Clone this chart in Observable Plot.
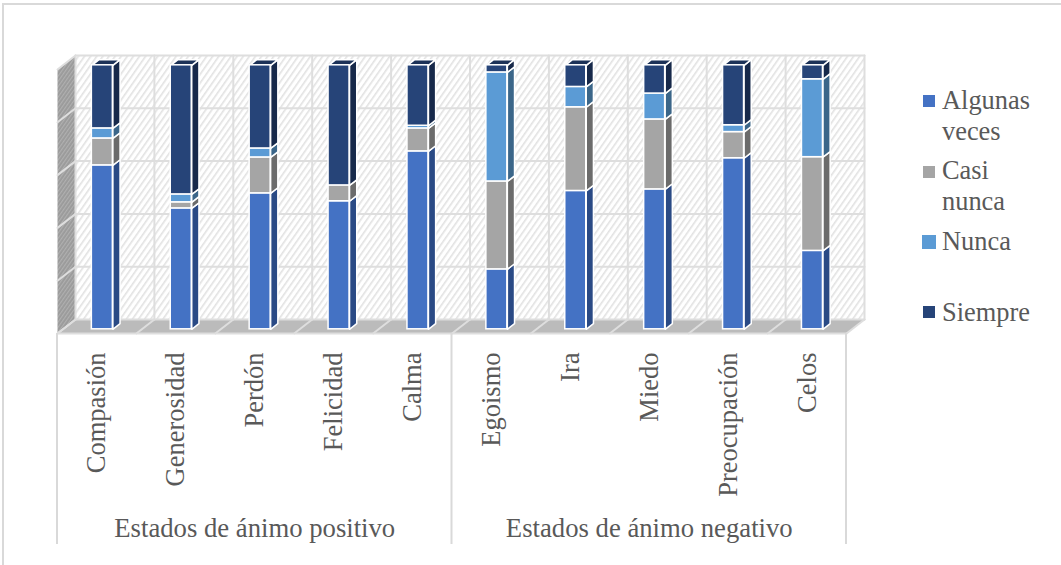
<!DOCTYPE html>
<html>
<head>
<meta charset="utf-8">
<script src="https://cdn.jsdelivr.net/npm/d3@7"></script>
<script src="https://cdn.jsdelivr.net/npm/@observablehq/plot@0.6"></script>
<style>
  html, body { margin: 0; padding: 0; background: #fff; }
  #chart { position: relative; width: 1061px; height: 565px; overflow: hidden; }
  #chart svg { display: block; position: absolute; left: 0; top: 0; }
  .lg { position: absolute; left: 942px; font: 26.4px/31px "Liberation Serif", serif; color: #595959; white-space: pre; }
  .sw { position: absolute; }
</style>
</head>
<body>
<div id="chart"></div>
<script>
const categories = ["Compasión","Generosidad","Perdón","Felicidad","Calma","Egoismo","Ira","Miedo","Preocupación","Celos"];
const groups = ["Estados de ánimo positivo","Estados de ánimo negativo"];
const groupSpans = [[0,5],[5,10]];
const seriesNames = ["Algunas veces","Casi nunca","Nunca","Siempre"];
const algunasVeces = [62.1,45.8,51.5,48.5,67.4,22.7,52.4,53.0,64.8,29.7];
const casiNunca    = [10.2, 2.3,13.6, 6.0, 8.7,33.3,31.7,26.5, 9.9,35.5];
const nunca        = [ 3.8, 3.0, 3.4, 0.0, 1.0,41.3, 7.7, 9.8, 2.6,29.5];
const siempre      = [23.9,48.9,31.5,45.5,22.9, 2.7, 8.2,10.7,22.7, 5.3];
const yTicks = [0,20,40,60,80,100];
const frontColors = ["#4472c4","#a5a5a5","#5b9bd5","#264478"];
const sideColors  = ["#2a4a85","#6b6b6b","#3b6689","#17294a"];
const topColors   = ["#2f5597","#7c7c7c","#44749f","#1c3258"];
const seriesValues = [algunasVeces,casiNunca,nunca,siempre];

// Oblique projection: t = 0 is the front edge of the floor, t = 1 is the back wall.
const shiftX = 18 / 78.9, shiftY = 14 / 2.64;
const P = (x, y, t) => ({x: x + t * shiftX, y: y + t * shiftY});
const barFront = 0.3, barBack = 0.7, halfBar = 0.133;

// Stack the series into segments
const segments = [];
categories.forEach((c, i) => {
  let base = 0;
  seriesValues.forEach((vals, s) => {
    const v = vals[i];
    if (v > 0) segments.push({c, i, s, name: seriesNames[s], lo: base, hi: base + v});
    base += v;
  });
});
const lo = d => d.i + 0.5 - halfBar, hi = d => d.i + 0.5 + halfBar;

const polys = (rows, cornersOf, colorOf) => rows.flatMap((d, k) =>
  cornersOf(d).map(p => ({...p, id: k, color: colorOf(d)})));
const sidePts = polys(segments, d => [P(hi(d),d.lo,barFront),P(hi(d),d.lo,barBack),P(hi(d),d.hi,barBack),P(hi(d),d.hi,barFront)], d => sideColors[d.s]);
// only the top-most segment of each bar shows its top face
const topSegs = segments.filter(d => d.s === 3);
const topPts = polys(topSegs, d => [P(lo(d),d.hi,barFront),P(hi(d),d.hi,barFront),P(hi(d),d.hi,barBack),P(lo(d),d.hi,barBack)], d => topColors[d.s]);

const wall = [P(0,0,1),P(10,0,1),P(10,100,1),P(0,100,1)];
const leftWall = [P(0,0,0),P(0,0,1),P(0,100,1),P(0,100,0)];
const floor = [P(0,0,0),P(10,0,0),P(10,0,1),P(0,0,1)];
const cuts = d3.range(0, 11);
const grid = "#dedede";

const defs = () => {
  const s = d3.create("svg:defs");
  const hatch = (id, size, bg, line, w) => {
    const p = s.append("pattern").attr("id", id).attr("width", size).attr("height", size)
      .attr("patternUnits", "userSpaceOnUse").attr("patternTransform", "rotate(35)");
    p.append("rect").attr("width", size).attr("height", size).attr("fill", bg);
    p.append("rect").attr("width", w).attr("height", size).attr("fill", line);
  };
  hatch("hWall", 5, "#ffffff", "#e2e2e2", 1.6);
  hatch("hLeft", 3, "#9a9a9a", "#b0b0b0", 1.2);
  const d = s.append("pattern").attr("id","hFloor").attr("width",2).attr("height",2).attr("patternUnits","userSpaceOnUse");
  d.append("rect").attr("width",2).attr("height",2).attr("fill","#b7b7b7");
  d.append("rect").attr("width",1).attr("height",1).attr("fill","#c6c6c6");
  return s.node();
};

const plot = Plot.plot({
  width: 1061, height: 565,
  marginLeft: 0, marginRight: 0, marginTop: 0, marginBottom: 0,
  x: {type: "linear", domain: [0, 10], range: [57, 846], axis: null},
  y: {type: "linear", domain: [0, 100], range: [333, 69], axis: null},
  color: {domain: seriesNames, range: frontColors},
  style: {background: "transparent"},
  marks: [
    defs,
    // Walls and floor
    Plot.line(wall, {x:"x", y:"y", fill:"url(#hWall)", stroke:"none", curve:"linear-closed"}),
    Plot.line(leftWall, {x:"x", y:"y", fill:"url(#hLeft)", stroke:"none", curve:"linear-closed"}),
    Plot.line(floor, {x:"x", y:"y", fill:"url(#hFloor)", stroke:"none", curve:"linear-closed"}),
    // Grid on back wall
    yTicks.map(t => Plot.line([P(0,t,1),P(10,t,1)], {x:"x", y:"y", stroke:grid, strokeWidth:2})),
    cuts.map(c => Plot.line([P(c,0,1),P(c,100,1)], {x:"x", y:"y", stroke:grid, strokeWidth:2})),
    // Grid on left wall
    yTicks.map(t => Plot.line([P(0,t,0),P(0,t,1)], {x:"x", y:"y", stroke:grid, strokeWidth:2})),
    // Grid on floor
    cuts.map(c => Plot.line([P(c,0,0),P(c,0,1)], {x:"x", y:"y", stroke:grid, strokeWidth:2})),
    // Bar sides and tops
    Plot.line(sidePts, {x:"x", y:"y", z:"id", fill:d => d.color, stroke:"#fff", strokeWidth:1.5, curve:"linear-closed"}),
    Plot.line(topPts, {x:"x", y:"y", z:"id", fill:d => d.color, stroke:"#fff", strokeWidth:1.5, curve:"linear-closed"}),
    // Bar fronts
    Plot.rect(segments, {
      x1: d => P(lo(d),d.lo,barFront).x, x2: d => P(hi(d),d.lo,barFront).x,
      y1: d => P(lo(d),d.lo,barFront).y, y2: d => P(lo(d),d.hi,barFront).y,
      fill: "name", stroke: "#fff", strokeWidth: 1.5
    }),
    // Axis: category lines and labels
    Plot.line([P(0,0,0),P(10,0,0)], {x:"x", y:"y", stroke:grid, strokeWidth:2}),
    Plot.text(categories, {
      x: (d,i) => i + 0.5, y: () => 0, text: d => d, rotate: -90, textAnchor: "end",
      dy: 19, dx: 0, fontSize: 26.5, fontFamily: "Liberation Serif", fill: "#595959"
    }),
    Plot.text(groups, {
      x: (d,i) => (groupSpans[i][0] + groupSpans[i][1]) / 2, y: () => 0, text: d => d,
      dy: 195, fontSize: 26.7, fontFamily: "Liberation Serif", fill: "#595959"
    }),
    (index, {x, y}) => {
      const g = d3.create("svg:g").attr("stroke", "#d9d9d9").attr("stroke-width", 2);
      [0,5,10].forEach(v => g.append("line").attr("x1", x(v)).attr("x2", x(v)).attr("y1", y(0)).attr("y2", 544));
      g.append("path").attr("fill","none").attr("d","M3 565V4H1061");
      return g.node();
    }
  ]
});
const root = document.getElementById("chart");
root.appendChild(plot);

// Legend
const legendRows = [
  {lines:["Algunas","veces"], color:frontColors[0], top:85, sw:[923,95,12]},
  {lines:["Casi","nunca"], color:frontColors[1], top:155, sw:[923,166,12]},
  {lines:["Nunca"], color:frontColors[2], top:226, sw:[922,235,14]},
  {lines:["Siempre"], color:frontColors[3], top:297, sw:[923,306,12]}
];
legendRows.forEach(r => {
  const t = document.createElement("div");
  t.className = "lg"; t.style.top = r.top + "px"; t.textContent = r.lines.join("\n");
  root.appendChild(t);
  const s = document.createElement("div");
  s.className = "sw";
  s.style.cssText = `left:${r.sw[0]}px;top:${r.sw[1]}px;width:${r.sw[2]}px;height:${r.sw[2]}px;background:${r.color}`;
  root.appendChild(s);
});
</script>
</body>
</html>
